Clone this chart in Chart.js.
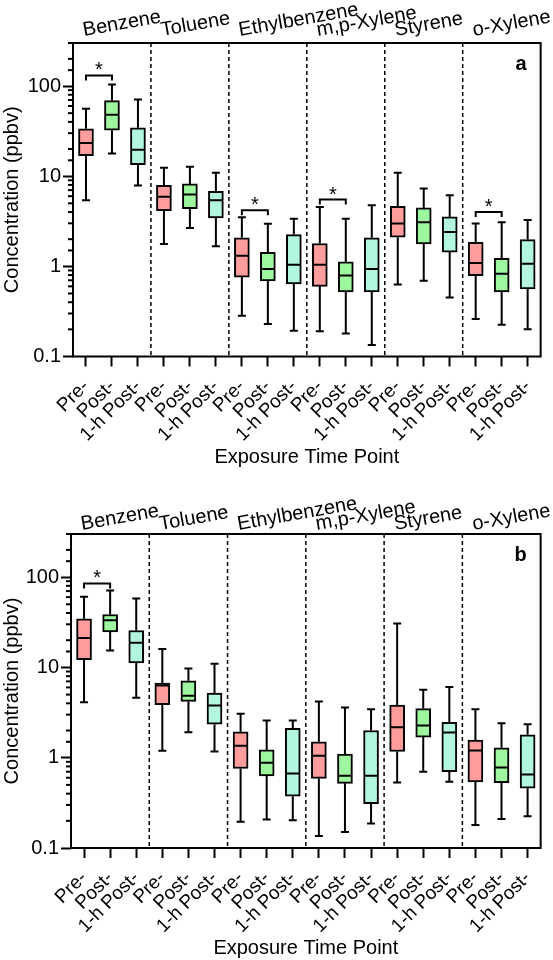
<!DOCTYPE html>
<html>
<head>
<meta charset="utf-8">
<script src="https://cdn.jsdelivr.net/npm/chart.js@4.4.0/dist/chart.umd.min.js"></script>
<style>
body { margin: 0; background: #fff; }
canvas { display: block; }
</style>
</head>
<body>
<canvas id="panelA" width="553" height="480"></canvas>
<canvas id="panelB" width="553" height="480"></canvas>
<script>
const compuestos = ['Benzene', 'Toluene', 'Ethylbenzene', 'm,p-Xylene', 'Styrene', 'o-Xylene'];
const tiempos = ['Pre-', 'Post-', '1-h Post-'];
const yTicks = [0.1, 1, 10, 100];

// panel a (min, Q1, mediana, Q3, max) en el orden compuesto x tiempo
const aMin = [5.4, 17.8, 7.9, 1.77, 2.67, 1.67, 0.284, 0.23, 0.193, 0.19, 0.18, 0.134, 0.63, 0.69, 0.45, 0.26, 0.225, 0.20];
const aQ1 = [16.9, 32.3, 13.4, 4.15, 4.37, 3.44, 0.76, 0.69, 0.64, 0.60, 0.52, 0.52, 2.1, 1.77, 1.44, 0.79, 0.52, 0.56];
const aMed = [23.4, 48, 19.7, 5.9, 6.25, 5.4, 1.31, 0.935, 1.04, 1.04, 0.79, 0.935, 2.98, 3.08, 2.41, 1.09, 0.83, 1.07];
const aQ3 = [33.5, 69, 34.4, 7.9, 8.2, 6.8, 2.07, 1.43, 2.25, 1.79, 1.12, 2.07, 4.63, 4.45, 3.53, 1.85, 1.23, 1.98];
const aMax = [56, 104, 71, 12.4, 12.7, 10.9, 3.5, 2.96, 3.38, 4.56, 3.38, 4.75, 10.9, 7.28, 6.14, 2.98, 3.08, 3.27];
const aSigGrupo = [0, 2, 3, 5];
const aSigNivel = [131, 4.2, 5.5, 4.0];

// panel b
const bMin = [4.1, 15.4, 4.6, 1.19, 1.91, 1.17, 0.195, 0.207, 0.203, 0.136, 0.15, 0.187, 0.53, 0.70, 0.54, 0.18, 0.21, 0.225];
const bQ1 = [12.2, 24.7, 11.2, 3.86, 4.2, 2.35, 0.76, 0.63, 0.375, 0.59, 0.52, 0.31, 1.17, 1.69, 0.70, 0.54, 0.53, 0.46];
const bMed = [21.2, 33.3, 18.7, 6.3, 4.85, 3.79, 1.36, 0.88, 0.67, 1.05, 0.63, 0.63, 2.18, 2.27, 1.9, 1.2, 0.78, 0.65];
const bQ3 = [34.5, 38.5, 25.6, 6.7, 7.1, 5.2, 1.94, 1.22, 2.12, 1.5, 1.1, 2.0, 3.82, 3.5, 2.47, 1.57, 1.29, 1.79];
const bMax = [60.5, 71, 58, 16, 9.7, 11, 3.06, 2.58, 2.58, 4.2, 3.6, 3.45, 30.6, 5.65, 6.05, 3.45, 2.4, 2.35];
const bSigGrupo = [0];
const bSigNivel = [85];

const fuente = "'Liberation Sans', Arial, sans-serif";
const colores = ['#FF9D9D', '#9EF79E', '#B3F6E0'];

let etiquetas = [];
compuestos.forEach(function () {
    tiempos.forEach(function (t) { etiquetas.push(t); });
});

function esMayor(v) {
    return yTicks.some(function (t) { return Math.abs(t - v) < t * 1e-6; });
}

// bigotes, medianas, separadores, textos de arriba, corchetes
const cajas = {
    id: 'cajas',
    afterDatasetsDraw(chart, args, o) {
        const ctx = chart.ctx;
        const x = chart.scales.x;
        const y = chart.scales.y;
        const area = chart.chartArea;
        const meta = chart.getDatasetMeta(0);
        ctx.save();
        ctx.strokeStyle = '#000';
        ctx.fillStyle = '#000';
        ctx.lineWidth = 2;

        for (let i = 0; i < o.med.length; i++) {
            const px = x.getPixelForValue(i);
            const w = meta.data[i].width;
            const yMax = y.getPixelForValue(o.max[i]);
            const yQ3 = y.getPixelForValue(o.q3[i]);
            const yQ1 = y.getPixelForValue(o.q1[i]);
            const yMin = y.getPixelForValue(o.min[i]);
            const yMed = y.getPixelForValue(o.med[i]);
            ctx.beginPath();
            ctx.moveTo(px, yMax); ctx.lineTo(px, yQ3);
            ctx.moveTo(px, yQ1); ctx.lineTo(px, yMin);
            ctx.moveTo(px - 4, yMax); ctx.lineTo(px + 4, yMax);
            ctx.moveTo(px - 4, yMin); ctx.lineTo(px + 4, yMin);
            ctx.moveTo(px - w / 2 + 1, yMed); ctx.lineTo(px + w / 2 - 1, yMed);
            ctx.stroke();
        }

        // separadores punteados
        ctx.save();
        ctx.lineWidth = 1.5;
        ctx.setLineDash([4, 3]);
        for (let g = 1; g < compuestos.length; g++) {
            const sx = (x.getPixelForValue(g * 3 - 1) + x.getPixelForValue(g * 3)) / 2;
            ctx.beginPath();
            ctx.moveTo(sx, area.top);
            ctx.lineTo(sx, area.bottom);
            ctx.stroke();
        }
        ctx.restore();

        // marco
        ctx.strokeRect(area.left, area.top, area.right - area.left, area.bottom - area.top);

        // ticks menores del eje y
        y.ticks.forEach(function (t) {
            if (esMayor(t.value)) return;
            const ty = y.getPixelForValue(t.value);
            ctx.beginPath();
            ctx.moveTo(area.left - 5, ty);
            ctx.lineTo(area.left, ty);
            ctx.stroke();
        });

        // nombres de compuestos
        ctx.font = '20px ' + fuente;
        ctx.textAlign = 'left';
        ctx.textBaseline = 'alphabetic';
        compuestos.forEach(function (nombre, g) {
            ctx.save();
            ctx.translate(x.getPixelForValue(g * 3) - 2, area.top - o.alto);
            ctx.rotate(-10 * Math.PI / 180);
            ctx.fillText(nombre, 0, 0);
            ctx.restore();
        });

        // corchetes de significancia
        o.sigGrupo.forEach(function (g, k) {
            const x1 = x.getPixelForValue(g * 3);
            const x2 = x.getPixelForValue(g * 3 + 1);
            const yy = y.getPixelForValue(o.sigNivel[k]);
            ctx.beginPath();
            ctx.moveTo(x1, yy + 5); ctx.lineTo(x1, yy); ctx.lineTo(x2, yy); ctx.lineTo(x2, yy + 5);
            ctx.stroke();
            ctx.textAlign = 'center';
            ctx.fillText('*', (x1 + x2) / 2, yy + 1);
        });

        // letra del panel
        ctx.font = 'bold 20px ' + fuente;
        ctx.textAlign = 'right';
        ctx.fillText(o.letra, area.right - 14, area.top + 27);
        ctx.restore();
    }
};

function panel(id, min, q1, med, q3, max, sigGrupo, sigNivel, letra, caja) {
    const ctx = document.getElementById(id);
    new Chart(ctx, {
        type: 'bar',
        data: {
            labels: etiquetas,
            datasets: [{
                data: q1.map(function (v, i) { return [v, q3[i]]; }),
                backgroundColor: etiquetas.map(function (_, i) { return colores[i % 3]; }),
                borderColor: '#000',
                borderWidth: 2,
                borderSkipped: false,
                barThickness: 15
            }]
        },
        options: {
            responsive: false,
            animation: false,
            layout: { padding: { top: caja.top, right: caja.right, left: 0, bottom: 0 } },
            plugins: {
                legend: { display: false },
                tooltip: { enabled: false },
                cajas: { min: min, q1: q1, med: med, q3: q3, max: max, sigGrupo: sigGrupo, sigNivel: sigNivel, letra: letra, alto: caja.alto }
            },
            scales: {
                x: {
                    offset: true,
                    border: { display: false },
                    grid: { drawOnChartArea: false, offset: false, tickLength: 10, tickWidth: 2, tickColor: '#000' },
                    ticks: { autoSkip: false, minRotation: 45, maxRotation: 45, padding: 9, color: '#000', font: { size: 19, family: fuente } },
                    title: { display: true, text: 'Exposure Time Point', color: '#000', font: { size: 20, family: fuente }, padding: { top: 0, bottom: caja.tituloX } },
                    afterFit: function (s) { s.height = caja.altoX; }
                },
                y: {
                    type: 'logarithmic',
                    min: 0.1,
                    max: 300,
                    border: { display: false },
                    grid: {
                        drawOnChartArea: false,
                        tickLength: 10,
                        tickWidth: 2,
                        tickColor: function (c) { return c.tick && esMayor(c.tick.value) ? '#000' : 'rgba(0,0,0,0)'; }
                    },
                    ticks: {
                        autoSkip: false,
                        padding: 2,
                        color: '#000',
                        font: { size: 20, family: fuente },
                        callback: function (v) { return esMayor(v) ? String(v) : ''; }
                    },
                    title: { display: true, text: 'Concentration (ppbv)', color: '#000', font: { size: 20, family: fuente }, padding: { top: 0, bottom: 0 } },
                    afterFit: function (s) { s.width = caja.anchoY; }
                }
            }
        },
        plugins: [cajas]
    });
}

panel('panelA', aMin, aQ1, aMed, aQ3, aMax, aSigGrupo, aSigNivel, 'a',
    { top: 43, right: 8, anchoY: 73, altoX: 123.5, tituloX: 11, alto: 7 });
panel('panelB', bMin, bQ1, bMed, bQ3, bMax, bSigGrupo, bSigNivel, 'b',
    { top: 54, right: 10, anchoY: 71, altoX: 112, tituloX: 0, alto: 4 });
</script>
</body>
</html>
